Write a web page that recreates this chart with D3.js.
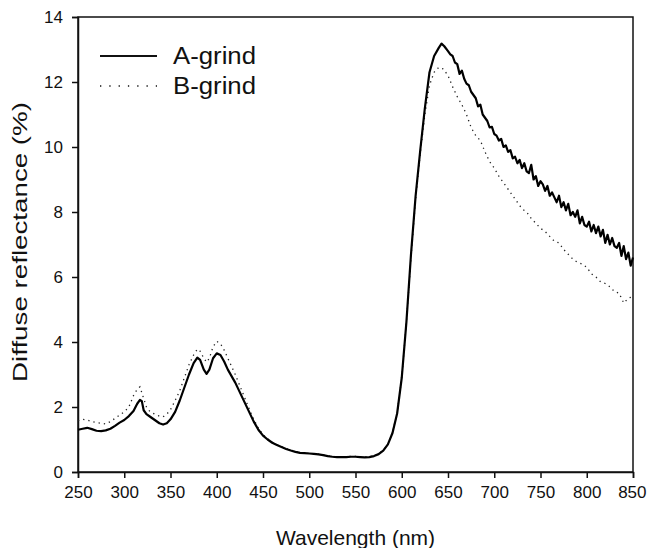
<!DOCTYPE html>
<html>
<head>
<meta charset="utf-8">
<script src="https://cdn.jsdelivr.net/npm/d3@7"></script>
<style>
  body { margin: 0; background: #fff; }
  svg text { font-family: "Liberation Sans", Arial, sans-serif; fill: #111; }
</style>
</head>
<body>
<div id="chart"></div>
<script>
// A-grind spectrum (solid line)
var wavelengthA = [250,255,260,265,270,275,280,285,290,295,300,305,310,314,317,319,321,324,328,333,338,342,346,350,355,360,365,370,375,379,382,386,389,392,396,400,404,408,412,416,420,425,430,435,440,445,450,455,460,465,470,475,480,485,490,495,500,505,510,515,520,525,530,535,540,545,550,555,560,565,570,575,580,585,590,595,600,605,610,615,620,625,630,635,640,643,646,
  650,652.5,655,657.5,660,662.5,665,667.5,670,672.5,675,677.5,680,682.5,685,687.5,690,692.5,695,697.5,700,702.5,705,707.5,710,712.5,715,717.5,720,722.5,725,727.5,730,732.5,735,737.5,740,742.5,745,747.5,750,752.5,755,757.5,760,762.5,765,767.5,770,772.5,775,777.5,780,782.5,785,787.5,790,792.5,795,797.5,800,802.5,805,807.5,810,812.5,815,817.5,820,822.5,825,827.5,830,832.5,835,837.5,840,842.5,845,847.5,850];
var reflA = [1.30,1.33,1.36,1.32,1.27,1.26,1.28,1.33,1.42,1.52,1.6,1.72,1.88,2.1,2.22,2.18,1.9,1.78,1.7,1.6,1.5,1.46,1.5,1.62,1.85,2.2,2.6,3.0,3.35,3.52,3.45,3.15,3.02,3.15,3.5,3.65,3.6,3.4,3.15,2.95,2.75,2.45,2.15,1.85,1.55,1.3,1.12,1.0,0.9,0.83,0.77,0.71,0.66,0.62,0.59,0.58,0.57,0.56,0.54,0.52,0.49,0.47,0.46,0.46,0.46,0.47,0.47,0.46,0.45,0.46,0.49,0.55,0.66,0.85,1.2,1.8,2.9,4.6,6.7,8.5,9.9,11.2,12.3,12.8,13.05,13.18,13.1,
  12.95,12.85,12.8,12.6,12.55,12.25,12.35,12.1,11.95,11.9,11.7,11.6,11.5,11.25,11.3,11.0,10.9,10.8,10.6,10.62,10.4,10.35,10.2,10.25,10.0,10.05,9.85,9.9,9.65,9.7,9.5,9.6,9.35,9.5,9.25,9.2,9.45,9.0,9.1,8.8,8.95,8.85,8.65,8.8,8.5,8.6,8.45,8.3,8.5,8.15,8.3,8.05,8.25,7.9,8.0,7.85,8.05,7.65,7.85,7.6,7.55,7.7,7.4,7.6,7.35,7.55,7.25,7.45,7.05,7.3,7.0,7.2,6.95,6.9,7.05,6.65,6.95,6.55,6.75,6.35,6.6];

// B-grind spectrum (dotted line)
var wavelengthB = [250,255,260,265,270,275,280,285,290,295,300,305,310,314,317,320,324,328,333,338,342,346,350,355,360,365,370,375,379,382,386,389,392,396,400,404,408,412,416,420,425,430,435,440,445,450,455,460,465,470,475,480,485,490,495,500,505,510,515,520,525,530,535,540,545,550,555,560,565,570,575,580,585,590,595,600,605,610,615,620,625,630,635,640,645,
  650,655,660,665,670,675,680,685,690,695,700,705,710,715,720,725,730,735,740,745,750,755,760,765,770,775,780,785,790,795,800,805,810,815,820,825,830,835,840,845,850];
var reflB = [1.58,1.62,1.6,1.55,1.52,1.5,1.48,1.55,1.65,1.75,1.85,2.0,2.35,2.55,2.62,2.35,2.0,1.85,1.78,1.72,1.7,1.78,1.92,2.2,2.5,2.9,3.3,3.6,3.78,3.72,3.5,3.38,3.5,3.85,4.02,3.95,3.75,3.5,3.25,3.0,2.65,2.3,1.95,1.62,1.35,1.15,1.02,0.92,0.84,0.78,0.72,0.67,0.63,0.6,0.58,0.57,0.56,0.55,0.53,0.5,0.48,0.47,0.47,0.47,0.48,0.48,0.47,0.46,0.47,0.5,0.56,0.67,0.86,1.22,1.82,2.9,4.6,6.6,8.4,9.8,11.0,11.9,12.3,12.45,12.4,
  12.2,11.85,11.55,11.3,11.0,10.6,10.35,10.2,9.85,9.55,9.35,9.1,8.9,8.7,8.5,8.3,8.1,8.0,7.8,7.65,7.5,7.4,7.25,7.1,7.05,6.85,6.7,6.55,6.45,6.4,6.3,6.1,6.0,5.85,5.8,5.7,5.55,5.5,5.2,5.35,5.4];

var xTicks = [250,300,350,400,450,500,550,600,650,700,750,800,850];
var yTicks = [0,2,4,6,8,10,12,14];
var seriesNames = ["A-grind", "B-grind"];

var width = 647, height = 548;
var margin = {left: 78, right: 14, top: 17, bottom: 76};

var svg = d3.select("#chart").append("svg")
    .attr("width", width)
    .attr("height", height);

var x = d3.scaleLinear().domain([250, 850]).range([margin.left, width - margin.right]);
var y = d3.scaleLinear().domain([0, 14]).range([height - margin.bottom, margin.top]);

// frame
svg.append("rect")
    .attr("x", x(250)).attr("y", y(14))
    .attr("width", x(850) - x(250)).attr("height", y(0) - y(14))
    .attr("fill", "none").attr("stroke", "#111").attr("stroke-width", 1.5);

var xAxis = svg.append("g")
    .attr("transform", "translate(0," + y(0) + ")")
    .call(d3.axisBottom(x).tickValues(xTicks).tickSize(6).tickPadding(8));
var yAxis = svg.append("g")
    .attr("transform", "translate(" + x(250) + ",0)")
    .call(d3.axisLeft(y).tickValues(yTicks).tickSize(6).tickPadding(9));

[xAxis, yAxis].forEach(function(g) {
    g.select(".domain").attr("stroke", "#111").attr("stroke-width", 1.5);
    g.selectAll(".tick line").attr("stroke", "#111").attr("stroke-width", 1.5);
    g.selectAll(".tick text").attr("fill", "#111")
        .style("font-family", "'Liberation Sans', Arial, sans-serif")
        .style("font-size", "17px");
});
// keep the last label inside the window
xAxis.selectAll(".tick text").filter(function(d) { return d == 850; })
    .attr("text-anchor", "end").attr("x", 13);

var lineA = d3.line()
    .x(function(d, i) { return x(wavelengthA[i]); })
    .y(function(d) { return y(d); });
var lineB = d3.line()
    .x(function(d, i) { return x(wavelengthB[i]); })
    .y(function(d) { return y(d); });

svg.append("path")
    .attr("d", lineB(reflB))
    .attr("fill", "none")
    .attr("stroke", "#222")
    .attr("stroke-width", 1.3)
    .attr("stroke-dasharray", "1.3,4");

svg.append("path")
    .attr("d", lineA(reflA))
    .attr("fill", "none")
    .attr("stroke", "#000")
    .attr("stroke-width", 2.2)
    .attr("stroke-linejoin", "round");

// legend
var legend = svg.append("g").attr("transform", "translate(100,56)");
seriesNames.forEach(function(name, i) {
    var row = legend.append("g").attr("transform", "translate(0," + (i * 30) + ")");
    row.append("line")
        .attr("x1", 0).attr("x2", 57)
        .attr("stroke", "#111")
        .attr("stroke-width", i == 0 ? 2 : 1.3)
        .attr("stroke-dasharray", i == 0 ? null : "1.3,8");
    row.append("text")
        .attr("x", 73).attr("y", 8)
        .attr("textLength", 83)
        .attr("lengthAdjust", "spacingAndGlyphs")
        .style("font-size", "23px")
        .text(name);
});

// axis titles
svg.append("text")
    .attr("x", (x(250) + x(850)) / 2)
    .attr("y", 545)
    .attr("text-anchor", "middle")
    .style("font-size", "21px")
    .text("Wavelength (nm)");

svg.append("text")
    .attr("transform", "translate(27,242) rotate(-90)")
    .attr("text-anchor", "middle")
    .attr("textLength", 280)
    .attr("lengthAdjust", "spacingAndGlyphs")
    .style("font-size", "21px")
    .text("Diffuse reflectance (%)");
</script>
</body>
</html>
